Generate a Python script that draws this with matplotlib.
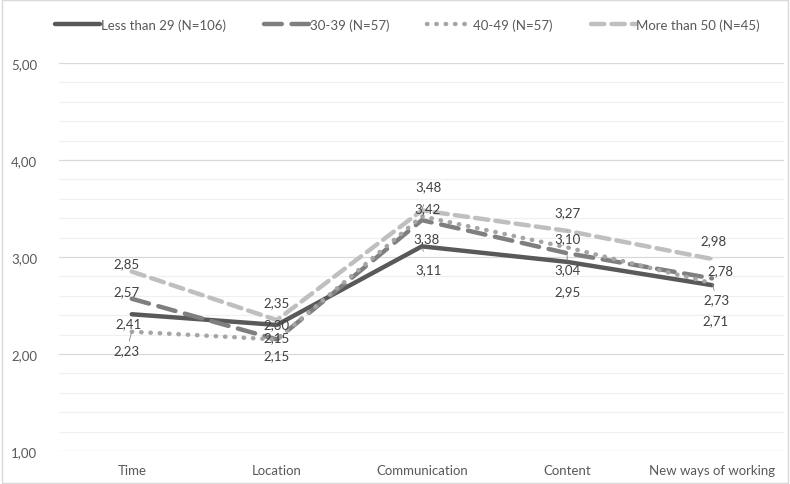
import matplotlib
matplotlib.use("Agg")
import matplotlib.pyplot as plt
from matplotlib.ticker import MultipleLocator

plt.rcParams["font.family"] = ["Liberation Sans Narrow", "Lato", "DejaVu Sans"]

categories = ["Time", "Location", "Communication", "Content", "New ways of working"]
series_names = ["Less than 29 (N=106)", "30-39 (N=57)", "40-49 (N=57)", "More than 50 (N=45)"]
less_29 = [2.41, 2.30, 3.11, 2.95, 2.71]
age_30_39 = [2.57, 2.15, 3.38, 3.04, 2.78]
age_40_49 = [2.23, 2.15, 3.42, 3.10, 2.73]
more_50 = [2.85, 2.35, 3.48, 3.27, 2.98]

# line styles per series
styles = [
    dict(color="#595959", lw=3.2, ls="-", solid_capstyle="round"),
    dict(color="#7f7f7f", lw=3.2, ls=(0, (4, 2.2)), dash_capstyle="round"),
    dict(color="#a5a5a5", lw=3.2, ls=(0, (0.1, 2.0)), dash_capstyle="round"),
    dict(color="#bfbfbf", lw=3.2, ls=(0, (3, 1.6)), dash_capstyle="round"),
]

# label offsets in pixels (dx, dy up) and whether a leader line is drawn
label_offsets = [
    [(-3, -9), (0, 1), (7, -23), (1, -29), (4, -35)],
    [(-5, 8), (0, 2), (5, -18), (1, -16), (8, 8)],
    [(-5, -18), (0, -16), (6, 8), (1, 9), (5, -16)],
    [(-5, 8), (0, 18), (7, 24), (1, 19), (2, 19)],
]
leaders = [
    [False, False, True, False, False],
    [False, False, False, True, False],
    [True, False, False, False, True],
    [False, False, True, True, True],
]

all_series = [less_29, age_30_39, age_40_49, more_50]

fig = plt.figure(figsize=(7.9, 4.85), dpi=100)
ax = fig.add_axes([0.075, 0.068, 0.918, 0.80])
x = list(range(len(categories)))

for name, vals, st in zip(series_names, all_series, styles):
    ax.plot(x, vals, label=name, zorder=3, **st)

for vals, offs, lead in zip(all_series, label_offsets, leaders):
    for xi, v, (dx, dy), ld in zip(x, vals, offs, lead):
        ax.annotate(f"{v:.2f}".replace(".", ","), (xi, v), xytext=(dx, dy),
                    textcoords="offset pixels", ha="center", va="center",
                    fontsize=9.5, color="#404040", zorder=5,
                    arrowprops=dict(arrowstyle="-", color="#808080", lw=0.6,
                                    shrinkA=7, shrinkB=1) if ld else None)

ax.set_xlim(-0.5, len(categories) - 0.5)
ax.set_ylim(1, 5)
ax.yaxis.set_major_locator(MultipleLocator(1))
ax.yaxis.set_minor_locator(MultipleLocator(0.2))
ax.set_yticklabels([f"{t:.2f}".replace(".", ",") for t in ax.get_yticks()])
ax.grid(axis="y", which="major", color="#d9d9d9", lw=0.9)
ax.grid(axis="y", which="minor", color="#f0f0f0", lw=0.9)
ax.set_axisbelow(True)
ax.set_xticks(x)
ax.set_xticklabels(categories)
ax.tick_params(axis="both", which="both", length=0, colors="#595959", labelsize=9.5, pad=9)
ax.tick_params(axis="y", pad=16)
for s in ax.spines.values():
    s.set_visible(False)

fig.legend(loc="upper left", bbox_to_anchor=(0.055, 0.985), ncol=4, frameon=False,
           fontsize=9.5, handlelength=3.4, handletextpad=0.05, columnspacing=2.9,
           labelcolor="#595959")

fig.patches.append(plt.Rectangle((0.002, 0.002), 0.996, 0.996, transform=fig.transFigure,
                                 fill=False, edgecolor="#d9d9d9", lw=1.0))
fig.savefig("out.png", dpi=100)
